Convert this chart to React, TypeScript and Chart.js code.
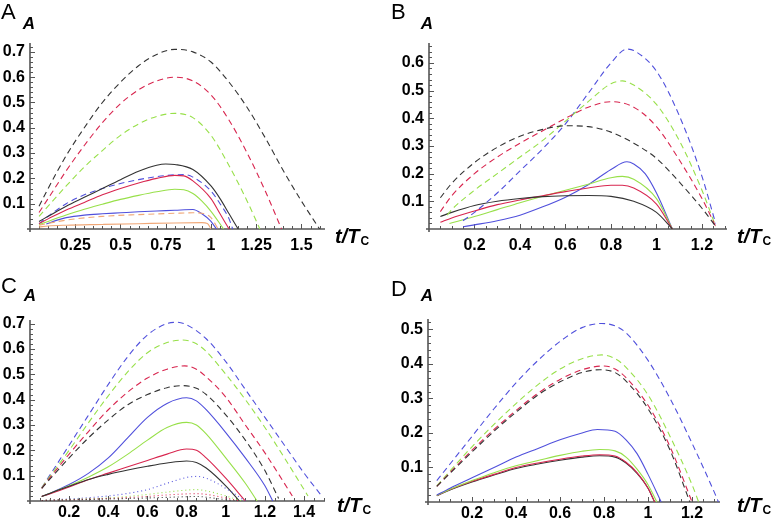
import React, { useEffect, useRef } from 'react';
import { Chart, registerables } from 'chart.js';
Chart.register(...registerables);

// ---------- Panel A data: [t/Tc, A] ----------
const A_blackDashed = [[0.05,0.09],[0.1,0.16],[0.2,0.29],[0.3,0.40],[0.4,0.50],[0.5,0.58],[0.6,0.645],[0.7,0.69],[0.8,0.71],[0.9,0.70],[1.0,0.66],[1.1,0.58],[1.2,0.48],[1.3,0.36],[1.4,0.23],[1.5,0.11],[1.6,0.0]];
const A_redDashed = [[0.05,0.065],[0.1,0.12],[0.2,0.23],[0.3,0.33],[0.4,0.42],[0.5,0.495],[0.6,0.55],[0.7,0.585],[0.8,0.60],[0.9,0.585],[1.0,0.53],[1.1,0.43],[1.2,0.30],[1.3,0.15],[1.39,0.0]];
const A_greenDashed = [[0.05,0.05],[0.1,0.09],[0.2,0.17],[0.3,0.245],[0.4,0.31],[0.5,0.37],[0.6,0.415],[0.7,0.445],[0.8,0.457],[0.9,0.44],[1.0,0.37],[1.1,0.25],[1.2,0.11],[1.27,0.0]];
const A_blueDashed = [[0.05,0.02],[0.1,0.05],[0.2,0.1],[0.3,0.135],[0.4,0.16],[0.5,0.18],[0.6,0.195],[0.7,0.207],[0.8,0.214],[0.85,0.215],[0.9,0.205],[1.0,0.15],[1.05,0.1],[1.1,0.04],[1.12,0.0]];
const A_orangeDashed = [[0.05,0.015],[0.2,0.035],[0.4,0.05],[0.6,0.057],[0.8,0.062],[0.9,0.064],[0.95,0.062],[1.0,0.045],[1.04,0.0]];
const A_blackSolid = [[0.05,0.03],[0.1,0.05],[0.2,0.09],[0.3,0.125],[0.4,0.16],[0.5,0.195],[0.6,0.228],[0.7,0.252],[0.75,0.257],[0.8,0.255],[0.9,0.235],[1.0,0.17],[1.05,0.12],[1.1,0.06],[1.15,0.0]];
const A_redSolid = [[0.05,0.022],[0.1,0.04],[0.2,0.075],[0.3,0.105],[0.4,0.135],[0.5,0.16],[0.6,0.182],[0.7,0.2],[0.8,0.212],[0.85,0.21],[0.9,0.19],[1.0,0.12],[1.05,0.06],[1.1,0.0]];
const A_greenSolid = [[0.05,0.017],[0.1,0.03],[0.2,0.055],[0.3,0.078],[0.4,0.098],[0.5,0.117],[0.6,0.133],[0.7,0.147],[0.8,0.157],[0.85,0.155],[0.9,0.14],[0.95,0.11],[1.0,0.07],[1.07,0.0]];
const A_blueSolid = [[0.09,0.02],[0.15,0.035],[0.2,0.045],[0.3,0.055],[0.4,0.06],[0.5,0.064],[0.6,0.068],[0.7,0.071],[0.8,0.074],[0.9,0.077],[0.95,0.06],[1.0,0.03],[1.03,0.0]];
const A_orangeSolid = [[0.05,0.008],[0.1,0.012],[0.2,0.015],[0.4,0.018],[0.6,0.021],[0.8,0.024],[0.95,0.025],[0.98,0.022],[1.0,0.0]];

// ---------- Panel B data ----------
const B_blackDashed = [[0.05,0.113],[0.1,0.165],[0.2,0.24],[0.3,0.295],[0.4,0.335],[0.5,0.36],[0.6,0.373],[0.7,0.37],[0.8,0.35],[0.9,0.31],[1.0,0.255],[1.1,0.17],[1.2,0.075],[1.26,0.01]];
const B_redDashed = [[0.05,0.063],[0.1,0.12],[0.2,0.2],[0.3,0.26],[0.4,0.31],[0.5,0.355],[0.6,0.4],[0.7,0.44],[0.8,0.46],[0.9,0.44],[1.0,0.37],[1.1,0.25],[1.2,0.11],[1.26,0.01]];
const B_greenDashed = [[0.08,0.05],[0.1,0.07],[0.2,0.14],[0.3,0.2],[0.4,0.26],[0.5,0.32],[0.6,0.39],[0.7,0.46],[0.8,0.525],[0.85,0.535],[0.9,0.52],[1.0,0.45],[1.1,0.32],[1.2,0.14],[1.26,0.01]];
const B_blueDashed = [[0.15,0.03],[0.2,0.06],[0.3,0.13],[0.4,0.21],[0.5,0.29],[0.6,0.38],[0.7,0.49],[0.8,0.6],[0.87,0.65],[0.9,0.645],[1.0,0.57],[1.1,0.41],[1.2,0.19],[1.26,0.02]];
const B_blackSolid = [[0.05,0.045],[0.1,0.06],[0.2,0.085],[0.3,0.1],[0.4,0.11],[0.5,0.117],[0.6,0.12],[0.7,0.121],[0.8,0.118],[0.9,0.1],[1.0,0.06],[1.07,0.0]];
const B_redSolid = [[0.05,0.024],[0.1,0.04],[0.2,0.065],[0.3,0.088],[0.4,0.105],[0.5,0.12],[0.6,0.135],[0.7,0.148],[0.8,0.158],[0.85,0.158],[0.9,0.148],[1.0,0.09],[1.07,0.0]];
const B_greenSolid = [[0.09,0.02],[0.2,0.045],[0.3,0.07],[0.4,0.095],[0.5,0.118],[0.6,0.14],[0.7,0.162],[0.8,0.185],[0.85,0.19],[0.9,0.18],[1.0,0.11],[1.07,0.0]];
const B_blueSolid = [[0.15,0.008],[0.2,0.015],[0.3,0.03],[0.4,0.05],[0.5,0.08],[0.6,0.115],[0.7,0.16],[0.8,0.215],[0.87,0.243],[0.9,0.235],[0.95,0.2],[1.0,0.13],[1.07,0.0]];

// ---------- Panel C data ----------
const C_blueDashed = [[0.06,0.052],[0.1,0.1],[0.2,0.22],[0.3,0.34],[0.4,0.46],[0.5,0.57],[0.6,0.655],[0.7,0.7],[0.75,0.705],[0.8,0.695],[0.9,0.64],[1.0,0.55],[1.1,0.44],[1.2,0.33],[1.3,0.22],[1.4,0.11],[1.49,0.02]];
const C_greenDashed = [[0.06,0.052],[0.1,0.095],[0.2,0.2],[0.3,0.31],[0.4,0.415],[0.5,0.51],[0.6,0.585],[0.7,0.625],[0.78,0.635],[0.85,0.62],[0.9,0.59],[1.0,0.5],[1.1,0.4],[1.2,0.29],[1.3,0.17],[1.42,0.02]];
const C_redDashed = [[0.06,0.05],[0.1,0.09],[0.2,0.185],[0.3,0.275],[0.4,0.36],[0.5,0.43],[0.6,0.485],[0.7,0.52],[0.79,0.533],[0.85,0.52],[0.9,0.49],[1.0,0.41],[1.1,0.3],[1.2,0.19],[1.34,0.02]];
const C_blackDashed = [[0.06,0.05],[0.1,0.085],[0.2,0.17],[0.3,0.25],[0.4,0.32],[0.5,0.38],[0.6,0.42],[0.7,0.447],[0.78,0.455],[0.85,0.445],[0.9,0.42],[1.0,0.34],[1.1,0.24],[1.2,0.12],[1.27,0.01]];
const C_blueSolid = [[0.06,0.018],[0.1,0.03],[0.2,0.065],[0.3,0.11],[0.4,0.17],[0.5,0.25],[0.6,0.33],[0.7,0.385],[0.8,0.407],[0.85,0.395],[0.9,0.36],[1.0,0.27],[1.1,0.17],[1.2,0.06],[1.24,0.0]];
const C_greenSolid = [[0.06,0.018],[0.1,0.03],[0.2,0.06],[0.3,0.095],[0.4,0.135],[0.5,0.185],[0.6,0.24],[0.7,0.29],[0.8,0.31],[0.85,0.3],[0.9,0.265],[1.0,0.17],[1.1,0.07],[1.16,0.0]];
const C_redSolid = [[0.06,0.018],[0.1,0.028],[0.2,0.055],[0.3,0.085],[0.4,0.11],[0.5,0.135],[0.6,0.16],[0.7,0.185],[0.8,0.205],[0.85,0.2],[0.9,0.17],[1.0,0.09],[1.1,0.0]];
const C_blackSolid = [[0.06,0.018],[0.1,0.03],[0.2,0.058],[0.3,0.085],[0.4,0.105],[0.5,0.122],[0.6,0.137],[0.7,0.15],[0.8,0.158],[0.85,0.152],[0.9,0.13],[1.0,0.06],[1.07,0.0]];
const C_blueDotted = [[0.06,0.002],[0.2,0.008],[0.3,0.013],[0.4,0.02],[0.5,0.03],[0.6,0.045],[0.7,0.07],[0.8,0.093],[0.85,0.097],[0.9,0.09],[1.0,0.05],[1.1,0.0]];
const C_greenDotted = [[0.06,0.002],[0.2,0.006],[0.4,0.012],[0.5,0.018],[0.6,0.026],[0.7,0.035],[0.8,0.043],[0.85,0.045],[0.9,0.04],[1.0,0.02],[1.08,0.0]];
const C_redDotted = [[0.06,0.002],[0.2,0.005],[0.4,0.01],[0.6,0.018],[0.7,0.024],[0.8,0.028],[0.85,0.029],[0.9,0.026],[1.0,0.012],[1.07,0.0]];
const C_blackDotted = [[0.06,0.002],[0.2,0.004],[0.4,0.008],[0.6,0.012],[0.8,0.017],[0.85,0.018],[0.9,0.015],[1.0,0.005],[1.05,0.0]];

// ---------- Panel D data ----------
const D_blueDashed = [[0.04,0.062],[0.1,0.11],[0.2,0.19],[0.3,0.27],[0.4,0.345],[0.5,0.41],[0.6,0.465],[0.7,0.505],[0.79,0.517],[0.85,0.51],[0.9,0.49],[1.0,0.41],[1.1,0.3],[1.2,0.17],[1.3,0.03],[1.32,0.0]];
const D_greenDashed = [[0.04,0.047],[0.1,0.09],[0.2,0.16],[0.3,0.225],[0.4,0.285],[0.5,0.34],[0.6,0.385],[0.7,0.415],[0.79,0.426],[0.85,0.415],[0.9,0.39],[1.0,0.31],[1.1,0.19],[1.2,0.05],[1.23,0.0]];
const D_redDashed = [[0.04,0.045],[0.1,0.085],[0.2,0.15],[0.3,0.21],[0.4,0.265],[0.5,0.315],[0.6,0.355],[0.7,0.383],[0.8,0.394],[0.85,0.385],[0.9,0.36],[1.0,0.28],[1.1,0.16],[1.2,0.0]];
const D_blackDashed = [[0.04,0.045],[0.1,0.083],[0.2,0.145],[0.3,0.205],[0.4,0.26],[0.5,0.31],[0.6,0.348],[0.7,0.375],[0.78,0.383],[0.85,0.375],[0.9,0.35],[1.0,0.27],[1.1,0.15],[1.19,0.0]];
const D_blueSolid = [[0.04,0.02],[0.1,0.04],[0.2,0.07],[0.3,0.1],[0.4,0.13],[0.5,0.155],[0.6,0.18],[0.7,0.2],[0.77,0.21],[0.85,0.205],[0.9,0.18],[0.95,0.14],[1.0,0.08],[1.06,0.0]];
const D_greenSolid = [[0.04,0.019],[0.1,0.037],[0.2,0.062],[0.3,0.085],[0.4,0.105],[0.5,0.12],[0.6,0.135],[0.7,0.147],[0.78,0.152],[0.85,0.148],[0.9,0.13],[0.95,0.095],[1.0,0.05],[1.04,0.0]];
const D_redSolid = [[0.04,0.019],[0.1,0.036],[0.2,0.06],[0.3,0.08],[0.4,0.1],[0.5,0.113],[0.6,0.124],[0.7,0.133],[0.78,0.137],[0.85,0.133],[0.9,0.115],[0.95,0.085],[1.0,0.04],[1.03,0.0]];
const D_blackSolid = [[0.04,0.018],[0.1,0.035],[0.2,0.058],[0.3,0.078],[0.4,0.097],[0.5,0.11],[0.6,0.121],[0.7,0.13],[0.78,0.134],[0.85,0.13],[0.9,0.113],[0.95,0.083],[1.0,0.04],[1.03,0.0]];

// ---------- Styles ----------
const BLACK = '#333333';
const RED = '#d8264f';
const GREEN = '#98e04a';
const BLUE = '#5050dc';
const ORANGE = '#f0a878';
const DASH = [6, 4];
const DOT = [1, 3];
const AXIS = '#555555';
const FONT = '"Liberation Sans", Arial, Helvetica, sans-serif';

const W = 387;
const H = 261;

type Series = { data: number[][]; color: string; dash?: number[] };

const panels = [
  {
    letter: 'A', left: 0, top: 0, ch: H, labelPad: 7,
    axisX: 30, axisY: 229, areaTop: 43, areaRight: 325,
    xMax: 1.63, yMax: 0.735, xStep: 0.25, xMinor: 0.05,
    letterPos: [1, 2], titlePos: [29, 24], tPos: [335, 237],
    series: [
      { data: A_blackDashed, color: BLACK, dash: DASH },
      { data: A_redDashed, color: RED, dash: DASH },
      { data: A_greenDashed, color: GREEN, dash: DASH },
      { data: A_orangeDashed, color: ORANGE, dash: DASH },
      { data: A_orangeSolid, color: ORANGE },
      { data: A_blueSolid, color: BLUE },
      { data: A_greenSolid, color: GREEN },
      { data: A_redSolid, color: RED },
      { data: A_blackSolid, color: BLACK },
      { data: A_blueDashed, color: BLUE, dash: DASH },
    ] as Series[],
  },
  {
    letter: 'B', left: W, top: 0, ch: H, labelPad: 7,
    axisX: 42, axisY: 229, areaTop: 43, areaRight: 340,
    xMax: 1.31, yMax: 0.672, xStep: 0.2, xMinor: 0.05,
    letterPos: [4, 2], titlePos: [40, 24], tPos: [350, 237],
    series: [
      { data: B_blackDashed, color: BLACK, dash: DASH },
      { data: B_redDashed, color: RED, dash: DASH },
      { data: B_greenDashed, color: GREEN, dash: DASH },
      { data: B_blueDashed, color: BLUE, dash: DASH },
      { data: B_blackSolid, color: BLACK },
      { data: B_redSolid, color: RED },
      { data: B_greenSolid, color: GREEN },
      { data: B_blueSolid, color: BLUE },
    ] as Series[],
  },
  {
    letter: 'C', left: 0, top: H, ch: H + 14, labelPad: 2,
    axisX: 30, axisY: 240, areaTop: 59, areaRight: 325,
    xMax: 1.507, yMax: 0.714, xStep: 0.2, xMinor: 0.05,
    letterPos: [1, 15], titlePos: [30, 35], tPos: [337, 245],
    series: [
      { data: C_blackDotted, color: BLACK, dash: DOT },
      { data: C_redDotted, color: RED, dash: DOT },
      { data: C_greenDotted, color: GREEN, dash: DOT },
      { data: C_blueDotted, color: BLUE, dash: DOT },
      { data: C_blackDashed, color: BLACK, dash: DASH },
      { data: C_redDashed, color: RED, dash: DASH },
      { data: C_greenDashed, color: GREEN, dash: DASH },
      { data: C_blueDashed, color: BLUE, dash: DASH },
      { data: C_blackSolid, color: BLACK },
      { data: C_redSolid, color: RED },
      { data: C_greenSolid, color: GREEN },
      { data: C_blueSolid, color: BLUE },
    ] as Series[],
  },
  {
    letter: 'D', left: W, top: H, ch: H + 14, labelPad: 2,
    axisX: 41, axisY: 241, areaTop: 58, areaRight: 333,
    xMax: 1.327, yMax: 0.53, xStep: 0.2, xMinor: 0.05,
    letterPos: [4, 18], titlePos: [40, 35], tPos: [350, 245],
    series: [
      { data: D_blackDashed, color: BLACK, dash: DASH },
      { data: D_redDashed, color: RED, dash: DASH },
      { data: D_greenDashed, color: GREEN, dash: DASH },
      { data: D_blueDashed, color: BLUE, dash: DASH },
      { data: D_blueSolid, color: BLUE },
      { data: D_greenSolid, color: GREEN },
      { data: D_redSolid, color: RED },
      { data: D_blackSolid, color: BLACK },
    ] as Series[],
  },
];

type Panel = typeof panels[number];

function fmt(v: number | string) {
  const n = Number(v);
  if (Math.abs(n) < 1e-9) return '';
  return String(parseFloat(n.toFixed(2)));
}

function decorPlugin(p: Panel) {
  return {
    id: 'decor' + p.letter,
    beforeDatasetsDraw(chart: any) {
      const ctx = chart.ctx;
      const xs = chart.scales.x;
      const ys = chart.scales.y;
      const ca = chart.chartArea;
      const x0 = xs.getPixelForValue(0);
      const y0 = ys.getPixelForValue(0);
      ctx.save();
      ctx.strokeStyle = AXIS;
      ctx.lineWidth = 1.6;
      ctx.beginPath();
      ctx.moveTo(x0 - 3, y0);
      ctx.lineTo(ca.right, y0);
      ctx.moveTo(x0, y0 + 3);
      ctx.lineTo(x0, ca.top);
      ctx.stroke();
      ctx.lineWidth = 1;
      ctx.beginPath();
      const nx = Math.floor(p.xMax / p.xMinor + 1e-6);
      const ratioX = Math.round(p.xStep / p.xMinor);
      for (let k = 1; k <= nx; k++) {
        const px = Math.round(xs.getPixelForValue(k * p.xMinor)) + 0.5;
        const len = k % ratioX === 0 ? 5 : 3;
        ctx.moveTo(px, y0);
        ctx.lineTo(px, y0 - len);
      }
      const yMinor = 0.02;
      const ny = Math.floor(p.yMax / yMinor + 1e-6);
      for (let k = 1; k <= ny; k++) {
        const py = Math.round(ys.getPixelForValue(k * yMinor)) + 0.5;
        const len = k % 5 === 0 ? 5 : 3;
        ctx.moveTo(x0, py);
        ctx.lineTo(x0 + len, py);
      }
      ctx.stroke();
      ctx.restore();
    },
    afterDraw(chart: any) {
      const ctx = chart.ctx;
      ctx.save();
      ctx.fillStyle = '#000';
      ctx.textBaseline = 'top';
      ctx.textAlign = 'left';
      ctx.font = '22px ' + FONT;
      ctx.fillText(p.letter, p.letterPos[0], p.letterPos[1]);
      ctx.textBaseline = 'middle';
      ctx.textAlign = 'center';
      ctx.font = 'italic bold 17px ' + FONT;
      ctx.fillText('A', p.titlePos[0], p.titlePos[1]);
      ctx.textAlign = 'left';
      ctx.font = 'italic bold 20px ' + FONT;
      const s = 't/T';
      ctx.fillText(s, p.tPos[0], p.tPos[1]);
      const w = ctx.measureText(s).width;
      ctx.font = 'bold 12px ' + FONT;
      ctx.fillText('C', p.tPos[0] + w + 1, p.tPos[1] + 5);
      ctx.restore();
    },
  };
}

function PanelChart({ p }: { p: Panel }) {
  const ref = useRef<HTMLCanvasElement | null>(null);
  useEffect(() => {
    if (!ref.current) return;
    const tickFont = { family: FONT, size: 16, weight: 'bold' as const };
    const chart = new Chart(ref.current, {
      type: 'line',
      data: {
        datasets: p.series.map((s) => ({
          data: s.data.map(([x, y]) => ({ x, y })),
          borderColor: s.color,
          borderWidth: 1.1,
          borderDash: s.dash || [],
          pointRadius: 0,
          fill: false,
          cubicInterpolationMode: 'monotone' as const,
        })),
      },
      options: {
        responsive: false,
        animation: false,
        events: [],
        layout: { padding: { left: 0, top: p.areaTop, right: W - p.areaRight, bottom: 0 } },
        plugins: { legend: { display: false }, tooltip: { enabled: false }, title: { display: false } },
        scales: {
          x: {
            type: 'linear',
            min: 0,
            max: p.xMax,
            grid: { display: false, drawTicks: false },
            border: { display: false },
            ticks: {
              stepSize: p.xStep,
              includeBounds: false,
              autoSkip: false,
              maxRotation: 0,
              padding: p.labelPad,
              color: '#000',
              font: tickFont,
              callback: (v: any) => fmt(v),
            },
            afterFit: (s: any) => { s.height = p.ch - p.axisY; },
          },
          y: {
            type: 'linear',
            min: 0,
            max: p.yMax,
            grid: { display: false, drawTicks: false },
            border: { display: false },
            ticks: {
              stepSize: 0.1,
              includeBounds: false,
              autoSkip: false,
              padding: 5,
              color: '#000',
              font: tickFont,
              callback: (v: any) => fmt(v),
            },
            afterFit: (s: any) => { s.width = p.axisX; },
          },
        },
      },
      plugins: [decorPlugin(p)],
    } as any);
    return () => chart.destroy();
  }, [p]);
  return (
    <canvas
      ref={ref}
      width={W}
      height={p.ch}
      style={{ position: 'absolute', left: p.left, top: p.top, width: W, height: p.ch }}
    />
  );
}

export default function App() {
  return (
    <div style={{ position: 'fixed', left: 0, top: 0, width: 774, height: 522, background: '#fff', overflow: 'hidden' }}>
      {panels.map((p) => (
        <PanelChart key={p.letter} p={p} />
      ))}
    </div>
  );
}
